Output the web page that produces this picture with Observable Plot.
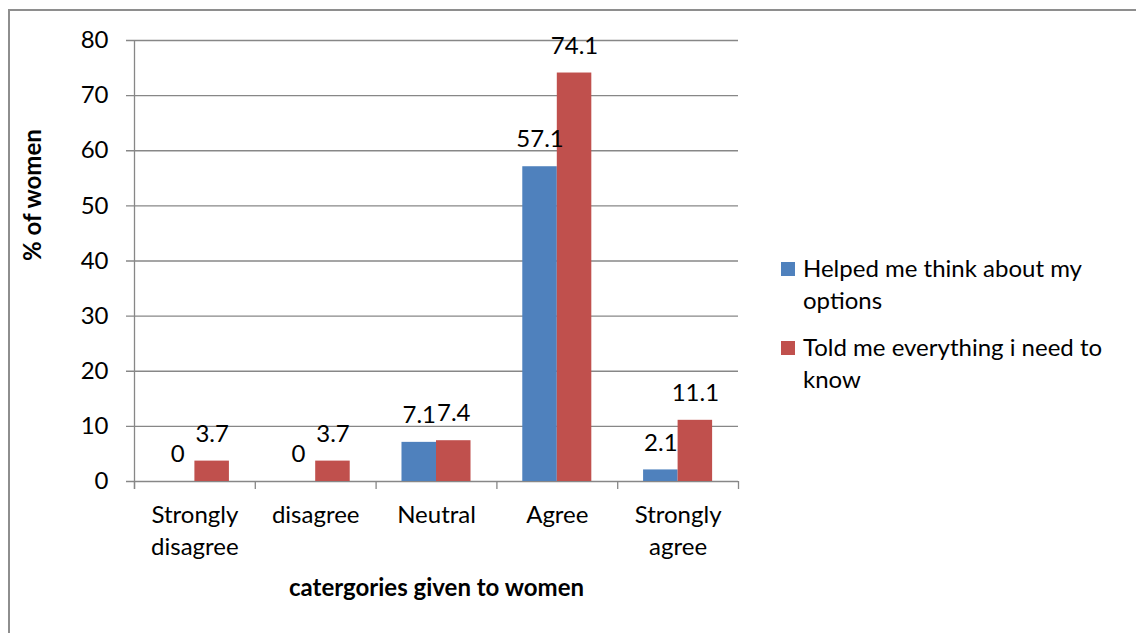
<!DOCTYPE html>
<html><head><meta charset="utf-8">
<script src="https://cdn.jsdelivr.net/npm/d3@7"></script>
<script src="https://cdn.jsdelivr.net/npm/@observablehq/plot@0.6"></script>
<style>
html,body{margin:0;padding:0;background:#fff;font-family:Lato,sans-serif;overflow:hidden;}
#wrap{position:relative;width:1139px;height:633px;overflow:hidden;background:#fff;}
#chart{position:absolute;left:0;top:0;}
.bline{position:absolute;background:#8e8e8e;pointer-events:none;}
#btop{left:8px;top:9px;width:1128px;height:2px;}
#bleft{left:8px;top:9px;width:2px;height:624px;}
#legend{position:absolute;left:781px;top:252px;width:340px;font-size:24px;line-height:32px;color:#000;font-family:Lato,sans-serif;}
.item{display:flex;align-items:flex-start;margin-bottom:15px;}
.sw{width:14px;height:14px;margin-top:10px;margin-right:8px;flex:none;}
</style></head>
<body>
<div id="wrap"><div id="chart"></div><div class="bline" id="btop"></div><div class="bline" id="bleft"></div><div id="legend"></div></div>
<script>
const categories = ["Strongly disagree","disagree","Neutral","Agree","Strongly agree"];
const seriesNames = ["Helped me think about my options","Told me everything i need to know"];
const helped = [0,0,7.1,57.1,2.1];
const told = [3.7,3.7,7.4,74.1,11.1];
const yTicks = [0,10,20,30,40,50,60,70,80];
const colors = ["#4F81BD","#C0504D"];
const boundaries = [0,1,2,3,4,5];

const gridColor = "#878787";
const barW = 1/3.5; // Excel gap width 150%
const values = [helped, told];
const rows = categories.flatMap((c,i)=>[0,1].map(s=>({cat:c,i,s,name:seriesNames[s],v:values[s][i]})));
const x1 = d => d.i + 0.5 + (d.s - 1) * barW;
const fs = 24;

const chart = Plot.plot({
  width: 1139, height: 633,
  marginLeft: 134, marginRight: 401, marginTop: 40, marginBottom: 152,
  style: {fontFamily: "Lato, sans-serif", fontSize: fs + "px", color: "#000", background: "transparent"},
  x: {domain: [0,5], axis: null},
  y: {domain: [0,80], axis: null},
  color: {domain: seriesNames, range: colors},
  marks: [
    Plot.ruleY(yTicks, {stroke: gridColor, strokeWidth: 1.3, insetLeft: -8}),
    Plot.ruleX([0], {stroke: gridColor, strokeWidth: 1.3, insetBottom: -8}),
    Plot.axisX({ticks: boundaries, tickSize: 8, tickFormat: () => "", stroke: gridColor, strokeWidth: 1.3}),
    Plot.axisY({ticks: yTicks, tickSize: 0, tickPadding: 26, fontSize: fs, fill: "#000", label: null}),
    Plot.rect(rows, {x1: x1, x2: d => x1(d) + barW, y1: 0, y2: "v", fill: "name"}),
    Plot.text(rows, {x: d => x1(d) + barW/2, y: "v", text: d => String(d.v), dy: -27, fontSize: fs, fill: "#000"}),
    Plot.text(categories, {x: (d,i) => i + 0.5, frameAnchor: "bottom", lineAnchor: "top", dy: 19, lineWidth: 5, lineHeight: 32/fs, fontSize: fs, fill: "#000"}),
    Plot.text(["catergories given to women"], {frameAnchor: "bottom", dy: 114, fontWeight: "bold", fontSize: fs, fill: "#000"}),
    Plot.text(["% of women"], {frameAnchor: "left", dx: -101, rotate: -90, fontWeight: "bold", fontSize: fs, fill: "#000"})
  ]
});
document.getElementById("chart").appendChild(chart);

const legend = d3.select("#legend");
seriesNames.forEach((n,k)=>{
  const it = legend.append("div").attr("class","item");
  it.append("div").attr("class","sw").style("background", colors[k]);
  it.append("div").text(n);
});
</script>
</body></html>
